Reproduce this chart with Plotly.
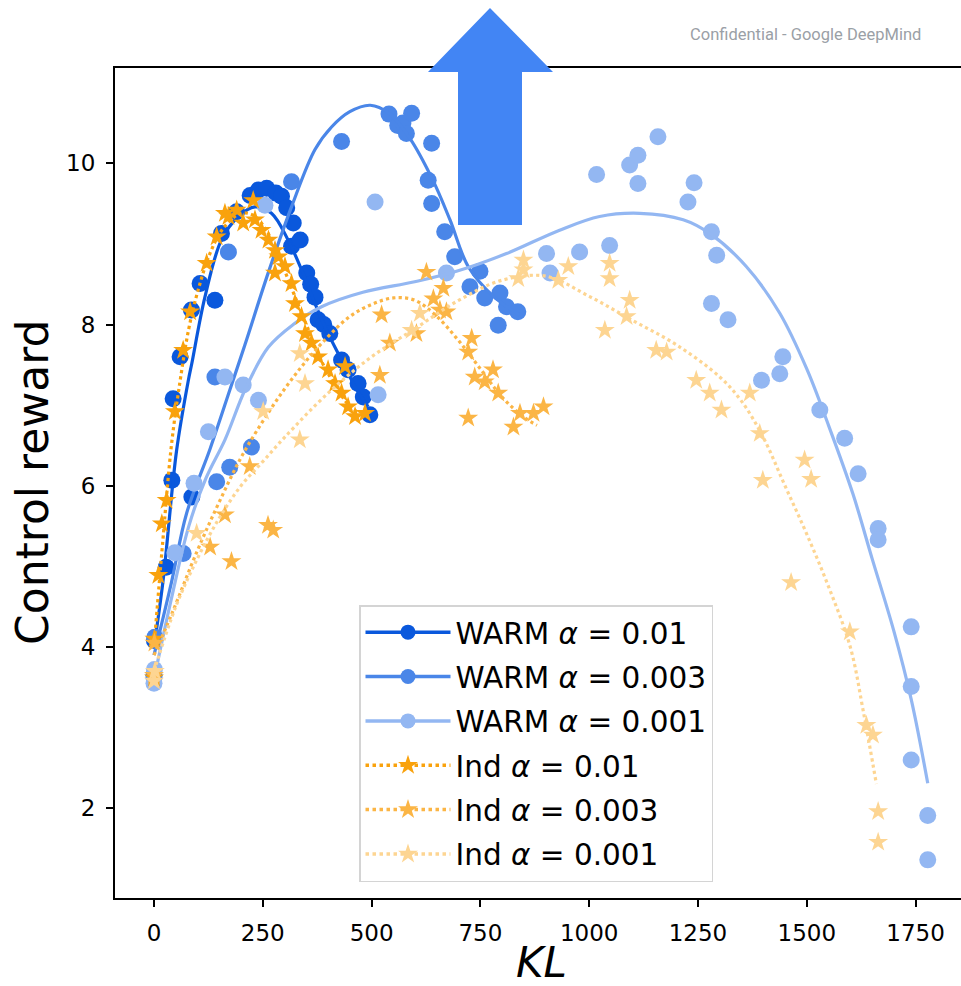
import plotly.graph_objects as go

# ---------------- data ----------------
warm01_x = [0, 1, 28, 41, 44, 60, 87, 86, 106, 140, 155, 190, 221, 240, 259, 280, 293, 305, 320, 316, 336, 351, 360, 370, 377, 390, 404, 431, 446, 469, 481, 496]
warm01_y = [3.65, 4.08, 4.99, 6.07, 7.08, 7.60, 5.86, 8.18, 8.51, 8.30, 9.13, 9.40, 9.60, 9.67, 9.69, 9.63, 9.59, 9.45, 9.26, 8.97, 9.05, 8.64, 8.50, 8.34, 8.06, 8.00, 7.89, 7.56, 7.44, 7.27, 7.10, 6.88]
warm01_fit_x = [0, 21, 52, 79, 87, 117, 155, 194, 232, 270, 308, 339, 370, 400, 431, 462, 492]
warm01_fit_y = [4.0, 4.83, 6.44, 7.31, 7.52, 8.34, 9.05, 9.34, 9.46, 9.38, 9.05, 8.68, 8.26, 7.89, 7.56, 7.23, 6.98]

warm003_x = [0, 2, 67, 140, 144, 171, 174, 224, 316, 431, 540, 560, 572, 580, 592, 638, 630, 638, 668, 691, 726, 749, 760, 791, 795, 810, 836]
warm003_y = [3.62, 4.12, 5.16, 7.35, 6.05, 8.90, 6.23, 6.48, 9.77, 10.27, 10.61, 10.47, 10.50, 10.37, 10.62, 10.25, 9.79, 9.50, 9.15, 8.84, 8.47, 8.66, 8.33, 7.99, 8.39, 8.22, 8.16]
warm003_fit_x = [0, 40, 75, 129, 175, 209, 263, 316, 370, 408, 450, 497, 540, 588, 640, 680, 722, 780, 840]
warm003_fit_y = [3.9, 4.8, 5.66, 6.46, 7.2, 7.75, 8.65, 9.46, 10.17, 10.45, 10.64, 10.72, 10.62, 10.31, 9.8, 9.3, 8.72, 8.35, 8.12]

warm001_x = [0, 1, 48, 92, 125, 163, 205, 240, 255, 508, 515, 672, 902, 910, 978, 1017, 1047, 1093, 1112, 1112, 1158, 1227, 1241, 1281, 1293, 1281, 1319, 1396, 1438, 1445, 1530, 1587, 1618, 1664, 1664, 1740, 1740, 1740, 1778, 1778]
warm001_y = [3.55, 3.72, 5.17, 6.03, 6.67, 7.35, 7.25, 7.06, 9.48, 9.52, 7.13, 8.64, 8.88, 8.64, 8.90, 9.86, 8.98, 9.98, 10.10, 9.75, 10.33, 9.52, 9.76, 9.15, 8.86, 8.26, 8.06, 7.31, 7.39, 7.60, 6.94, 6.59, 6.15, 5.47, 5.33, 4.25, 3.51, 2.60, 1.91, 1.36]
warm001_fit_x = [0, 40, 80, 120, 163, 210, 263, 320, 385, 480, 599, 695, 810, 932, 1024, 1116, 1216, 1277, 1361, 1438, 1500, 1550, 1606, 1650, 1700, 1740, 1778]
warm001_fit_y = [3.6, 4.6, 5.5, 6.1, 6.57, 7.2, 7.72, 8.0, 8.22, 8.4, 8.53, 8.66, 8.88, 9.17, 9.34, 9.38, 9.30, 9.13, 8.72, 8.14, 7.45, 6.75, 5.9, 5.1, 4.2, 3.35, 2.31]

ind01_x = [0, 1, 10, 18, 29, 48, 67, 83, 121, 144, 163, 171, 190, 205, 228, 232, 247, 263, 278, 286, 278, 301, 316, 324, 339, 347, 362, 377, 400, 416, 431, 439, 446, 462, 485]
ind01_y = [3.62, 4.10, 4.89, 5.53, 5.82, 6.92, 7.68, 8.16, 8.76, 9.09, 9.38, 9.34, 9.42, 9.26, 9.54, 9.30, 9.17, 9.05, 8.92, 8.84, 8.64, 8.72, 8.51, 8.26, 8.10, 7.89, 7.77, 7.60, 7.44, 7.27, 7.15, 7.48, 6.98, 6.86, 6.90]
ind01_fit_x = [0, 20, 40, 60, 80, 100, 130, 160, 200, 230, 260, 290, 320, 350, 380, 410, 440, 470]
ind01_fit_y = [4.0, 5.3, 6.5, 7.3, 7.95, 8.4, 8.9, 9.2, 9.38, 9.35, 9.15, 8.8, 8.4, 8.0, 7.6, 7.3, 7.05, 6.9]

ind003_x = [0, 1, 129, 163, 178, 220, 262, 274, 523, 542, 519, 603, 626, 642, 665, 657, 672, 730, 722, 737, 760, 779, 791, 722, 826, 841, 872, 895]
ind003_y = [3.65, 4.05, 5.24, 5.64, 5.06, 6.24, 5.51, 5.45, 8.12, 7.77, 7.37, 7.89, 8.65, 8.32, 8.45, 8.18, 8.16, 7.83, 7.66, 7.35, 7.29, 7.44, 7.15, 6.84, 6.73, 6.90, 6.90, 6.98]
ind003_fit_x = [0, 40, 100, 150, 200, 250, 300, 350, 400, 450, 500, 550, 600, 650, 700, 750, 800, 850, 880]
ind003_fit_y = [3.9, 4.4, 5.2, 5.8, 6.35, 6.8, 7.2, 7.55, 7.85, 8.1, 8.25, 8.33, 8.3, 8.1, 7.8, 7.45, 7.1, 6.85, 6.75]

ind001_x = [0, 2, 98, 251, 335, 335, 347, 592, 611, 837, 849, 849, 929, 952, 1036, 1047, 1047, 1086, 1093, 1154, 1178, 1246, 1277, 1304, 1369, 1392, 1399, 1464, 1495, 1510, 1599, 1637, 1652, 1664, 1664]
ind001_y = [3.58, 3.70, 5.41, 6.92, 6.57, 7.64, 7.27, 7.93, 8.14, 8.57, 8.68, 8.80, 8.55, 8.72, 7.93, 8.57, 8.76, 8.10, 8.30, 7.68, 7.66, 7.31, 7.15, 6.94, 7.15, 6.65, 6.07, 4.80, 6.32, 6.08, 4.19, 3.03, 2.91, 1.96, 1.58]
ind001_fit_x = [0, 50, 100, 150, 200, 250, 300, 400, 500, 600, 700, 800, 900, 1000, 1100, 1200, 1300, 1350, 1400, 1450, 1500, 1550, 1600, 1630, 1660]
ind001_fit_y = [3.7, 4.5, 5.1, 5.6, 6.0, 6.3, 6.6, 7.15, 7.6, 7.95, 8.3, 8.55, 8.6, 8.35, 8.05, 7.75, 7.35, 7.05, 6.6, 6.0, 5.4, 4.75, 4.0, 3.2, 2.3]

series_names = ["WARM <i>α</i> = 0.01", "WARM <i>α</i> = 0.003", "WARM <i>α</i> = 0.001",
                "Ind <i>α</i> = 0.01", "Ind <i>α</i> = 0.003", "Ind <i>α</i> = 0.001"]
x_ticks = [0, 250, 500, 750, 1000, 1250, 1500, 1750]
y_ticks = [2, 4, 6, 8, 10]

# ---------------- style ----------------
colors = ["#0a58dc", "#4a86e8", "#93b7f2", "#f9a20d", "#fbb545", "#fdd592"]
series = [
    (warm01_x, warm01_y, warm01_fit_x, warm01_fit_y),
    (warm003_x, warm003_y, warm003_fit_x, warm003_fit_y),
    (warm001_x, warm001_y, warm001_fit_x, warm001_fit_y),
    (ind01_x, ind01_y, ind01_fit_x, ind01_fit_y),
    (ind003_x, ind003_y, ind003_fit_x, ind003_fit_y),
    (ind001_x, ind001_y, ind001_fit_x, ind001_fit_y),
]

W, H = 961, 986
L, R, T, B = 115, 0, 68, 88
PW, PH = W - L - R, H - T - B

def px(x):
    return (x - L) / PW

def py(y):
    return (H - B - y) / PH

fig = go.Figure()
for i, (sx, sy, fx, fy) in enumerate(series):
    is_warm = i < 3
    fig.add_trace(go.Scatter(
        x=sx, y=sy, mode="markers", showlegend=False, hoverinfo="skip",
        marker=dict(color=colors[i], size=17 if is_warm else 15,
                    symbol="circle" if is_warm else "star", line=dict(width=0))))
    fig.add_trace(go.Scatter(
        x=fx, y=fy, mode="lines", showlegend=False, hoverinfo="skip",
        line=dict(color=colors[i], width=3.2,
                  shape="spline", dash="solid" if is_warm else "dot")))

for i, name in enumerate(series_names):
    is_warm = i < 3
    fig.add_trace(go.Scatter(
        x=[None], y=[None], mode="lines+markers", name=name, legendgroup=str(i),
        marker=dict(color=colors[i], size=15, symbol="circle" if is_warm else "star"),
        line=dict(color=colors[i], width=3.5, dash="solid" if is_warm else "dot")))

arrow = [(458, 225), (458, 72), (428, 72), (490, 8), (553, 72), (522, 72), (522, 225)]
path = "M " + " L ".join(f"{px(a):.5f},{py(b):.5f}" for a, b in arrow) + " Z"

fig.update_layout(
    width=W, height=H,
    margin=dict(l=L, r=R, t=T, b=B, pad=0),
    paper_bgcolor="white", plot_bgcolor="white",
    font=dict(family="DejaVu Sans", color="black"),
    xaxis=dict(range=[-89.6, 1854.4], tickvals=x_ticks, showgrid=False, zeroline=False,
               showline=True, linecolor="black", linewidth=2, mirror=True,
               ticks="outside", ticklen=7, tickwidth=2, tickcolor="black",
               tickfont=dict(size=23), ticklabelstandoff=6),
    yaxis=dict(range=[0.887, 11.182], tickvals=y_ticks, showgrid=False, zeroline=False,
               showline=True, linecolor="black", linewidth=2, mirror=False,
               ticks="outside", ticklen=7, tickwidth=2, tickcolor="black",
               tickfont=dict(size=23), ticklabelstandoff=6),
    legend=dict(x=px(359), y=py(605), xanchor="left", yanchor="top",
                bgcolor="white", bordercolor="#d4d4d4", borderwidth=1.5,
                font=dict(size=29.5, family="DejaVu Sans"), tracegroupgap=3,
                itemwidth=85),
    shapes=[dict(type="path", path=path, xref="paper", yref="paper",
                 fillcolor="#4285f4", line=dict(width=0), layer="above")],
    annotations=[
        dict(text="Control reward", textangle=-90, x=px(32), y=py(483), xref="paper", yref="paper",
             showarrow=False, font=dict(size=44), xanchor="center", yanchor="middle"),
        dict(text="<i>KL</i>", x=px(541), y=py(962), xref="paper", yref="paper",
             showarrow=False, font=dict(size=42), xanchor="center", yanchor="middle"),
        dict(text="Confidential - Google DeepMind", x=px(805), y=py(35), xref="paper", yref="paper",
             showarrow=False, font=dict(size=16.5, family="Roboto", color="#9aa0a6"),
             xanchor="center", yanchor="middle"),
    ],
)

fig.write_html("out.html")
